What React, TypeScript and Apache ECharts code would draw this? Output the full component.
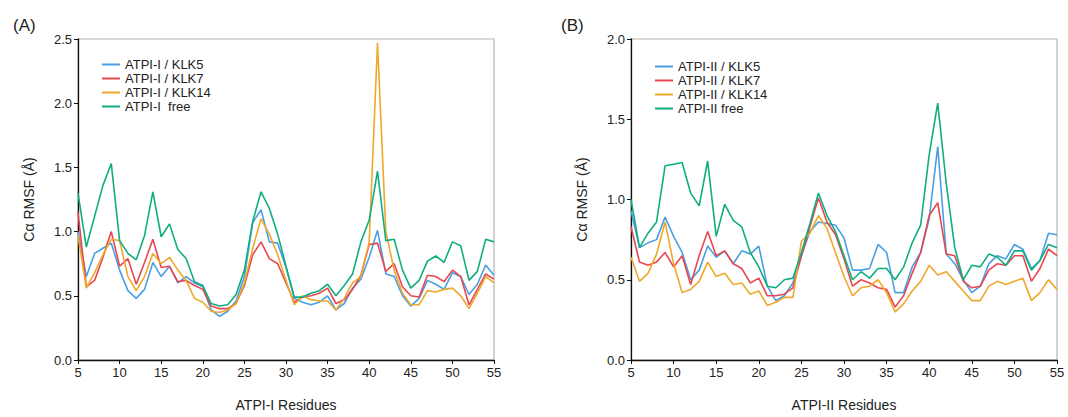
import React, { useEffect, useRef } from "react";
import * as echarts from "echarts";

const residues: number[] = [];
for (let r = 5; r <= 55; r++) residues.push(r);

// Panel A (ATPI-I)
const aKLK5 = [1.0,0.65,0.83,0.87,0.91,0.70,0.54,0.48,0.55,0.76,0.65,0.73,0.60,0.65,0.60,0.57,0.39,0.34,0.38,0.46,0.65,1.07,1.17,0.92,0.91,0.72,0.48,0.45,0.43,0.45,0.50,0.39,0.44,0.56,0.63,0.80,1.01,0.67,0.65,0.50,0.42,0.48,0.62,0.59,0.55,0.68,0.65,0.51,0.59,0.74,0.66];
const aKLK7 = [1.15,0.57,0.62,0.80,1.00,0.73,0.79,0.59,0.76,0.94,0.72,0.73,0.61,0.62,0.58,0.55,0.42,0.40,0.40,0.44,0.58,0.82,0.92,0.79,0.75,0.60,0.45,0.49,0.50,0.52,0.56,0.44,0.47,0.55,0.66,0.90,0.91,0.69,0.75,0.57,0.50,0.49,0.66,0.65,0.61,0.70,0.65,0.43,0.55,0.67,0.63];
const aKLK14 = [0.97,0.56,0.68,0.82,0.94,0.93,0.65,0.54,0.65,0.83,0.75,0.80,0.70,0.62,0.48,0.45,0.38,0.37,0.39,0.44,0.60,0.87,1.10,0.98,0.82,0.62,0.43,0.50,0.47,0.46,0.46,0.39,0.48,0.60,0.65,0.92,2.47,1.00,0.70,0.52,0.43,0.43,0.54,0.53,0.55,0.56,0.50,0.40,0.52,0.65,0.60];
const aFree = [1.30,0.88,1.12,1.36,1.53,0.93,0.83,0.78,0.97,1.31,0.96,1.06,0.86,0.79,0.61,0.58,0.44,0.42,0.43,0.51,0.70,1.08,1.31,1.18,0.98,0.73,0.49,0.49,0.52,0.54,0.59,0.50,0.58,0.67,0.92,1.09,1.47,0.93,0.94,0.70,0.56,0.62,0.77,0.81,0.76,0.92,0.89,0.62,0.69,0.94,0.92];

// Panel B (ATPI-II)
const bKLK5 = [0.93,0.70,0.73,0.75,0.89,0.77,0.67,0.50,0.56,0.71,0.64,0.68,0.60,0.68,0.66,0.71,0.46,0.37,0.40,0.48,0.65,0.80,0.86,0.85,0.84,0.76,0.56,0.56,0.57,0.72,0.67,0.42,0.42,0.58,0.67,0.88,1.33,0.66,0.60,0.50,0.42,0.46,0.60,0.65,0.63,0.72,0.69,0.57,0.62,0.79,0.78];
const bKLK7 = [0.83,0.61,0.59,0.61,0.67,0.58,0.65,0.47,0.65,0.80,0.65,0.68,0.60,0.57,0.48,0.51,0.40,0.40,0.41,0.45,0.65,0.83,1.01,0.86,0.78,0.63,0.46,0.50,0.48,0.45,0.44,0.33,0.40,0.54,0.67,0.90,0.98,0.66,0.65,0.49,0.45,0.46,0.56,0.60,0.59,0.65,0.65,0.49,0.57,0.69,0.65];
const bKLK14 = [0.64,0.49,0.54,0.66,0.86,0.60,0.42,0.44,0.49,0.61,0.52,0.54,0.47,0.48,0.41,0.43,0.34,0.36,0.39,0.39,0.74,0.79,0.90,0.82,0.67,0.52,0.40,0.45,0.46,0.50,0.42,0.30,0.35,0.43,0.49,0.59,0.53,0.55,0.49,0.43,0.37,0.37,0.46,0.49,0.47,0.49,0.51,0.37,0.42,0.50,0.44];
const bFree = [1.00,0.70,0.79,0.86,1.21,1.22,1.23,1.04,0.96,1.24,0.77,0.97,0.87,0.83,0.67,0.58,0.46,0.45,0.50,0.51,0.67,0.85,1.04,0.90,0.80,0.65,0.50,0.55,0.51,0.57,0.57,0.50,0.58,0.73,0.84,1.28,1.60,1.10,0.70,0.50,0.59,0.58,0.66,0.64,0.59,0.68,0.68,0.56,0.62,0.72,0.70];

const namesA = ["ATPI-I / KLK5", "ATPI-I / KLK7", "ATPI-I / KLK14", "ATPI-I  free"];
const namesB = ["ATPI-II / KLK5", "ATPI-II / KLK7", "ATPI-II / KLK14", "ATPI-II free"];
const colors = ["#4a9fe3", "#e8474f", "#f0a82c", "#0fae80"];

const FONT = "Liberation Sans, Arial, sans-serif";

export default function App() {
  const ref = useRef<HTMLDivElement>(null);
  useEffect(() => {
    if (!ref.current) return;
    const chart = echarts.init(ref.current, undefined, { renderer: "svg" });
    const toPts = (vals: number[]) => residues.map((r, i) => [r, vals[i]]);
    const seriesA = [aKLK5, aKLK7, aKLK14, aFree];
    const seriesB = [bKLK5, bKLK7, bKLK14, bFree];
    const xAxisBase = (name: string, gridIndex: number) => ({
      type: "value",
      gridIndex,
      min: 5,
      max: 55,
      interval: 5,
      name,
      nameLocation: "middle",
      nameGap: 38,
      nameTextStyle: { fontFamily: FONT, fontSize: 14, color: "#222" },
      axisLine: { show: true, lineStyle: { color: "#111", width: 1.3 } },
      axisTick: { show: true, length: 4, lineStyle: { color: "#111" } },
      axisLabel: { fontFamily: FONT, fontSize: 13, color: "#222", margin: 6 },
      splitLine: { show: false },
    });
    const yAxisBase = (max: number, gridIndex: number) => ({
      type: "value",
      gridIndex,
      min: 0,
      max,
      interval: 0.5,
      name: "Cα RMSF (Å)",
      nameLocation: "middle",
      nameGap: 42,
      nameRotate: 90,
      nameTextStyle: { fontFamily: FONT, fontSize: 14, color: "#222" },
      axisLine: { show: true, lineStyle: { color: "#111", width: 1.3 } },
      axisTick: { show: true, length: 4, lineStyle: { color: "#111" } },
      axisLabel: {
        fontFamily: FONT,
        fontSize: 13,
        color: "#222",
        margin: 6,
        formatter: (v: number) => v.toFixed(1),
      },
      splitLine: { show: false },
    });
    const mk = (names: string[], data: number[][], idx: number) =>
      names.map((n, i) => ({
        name: n,
        type: "line",
        xAxisIndex: idx,
        yAxisIndex: idx,
        data: toPts(data[i]),
        showSymbol: false,
        symbol: "none",
        lineStyle: { width: 1.6, color: colors[i] },
        itemStyle: { color: colors[i] },
        z: i === 3 ? 3 : 2,
      }));
    const legendBase = {
      orient: "vertical",
      itemWidth: 18,
      itemHeight: 2,
      itemGap: 1,
      icon: "rect",
      textStyle: { fontFamily: FONT, fontSize: 13, color: "#222" },
    };
    chart.setOption({
      animation: false,
      color: colors,
      textStyle: { fontFamily: FONT },
      title: [
        { text: "(A)", left: 8, top: 12, textStyle: { fontFamily: FONT, fontSize: 17, fontWeight: "normal", color: "#222" } },
        { text: "(B)", left: 556, top: 12, textStyle: { fontFamily: FONT, fontSize: 17, fontWeight: "normal", color: "#222" } },
      ],
      legend: [
        { ...legendBase, data: namesA, left: 97, top: 53 },
        { ...legendBase, data: namesB, left: 650, top: 55 },
      ],
      grid: [
        { left: 78, top: 39, width: 416, height: 330, show: true, borderColor: "#b5b5b5", borderWidth: 1.2, backgroundColor: "transparent" },
        { left: 631, top: 39, width: 426, height: 330, show: true, borderColor: "#b5b5b5", borderWidth: 1.2, backgroundColor: "transparent" },
      ],
      xAxis: [xAxisBase("ATPI-I Residues", 0), xAxisBase("ATPI-II Residues", 1)],
      yAxis: [yAxisBase(2.5, 0), yAxisBase(2.0, 1)],
      series: [...mk(namesA, seriesA, 0), ...mk(namesB, seriesB, 1)],
    });
    return () => chart.dispose();
  }, []);
  return (
    <div
      ref={ref}
      style={{ position: "fixed", left: 0, top: 0, width: 1068, height: 417, background: "#fff" }}
    />
  );
}
